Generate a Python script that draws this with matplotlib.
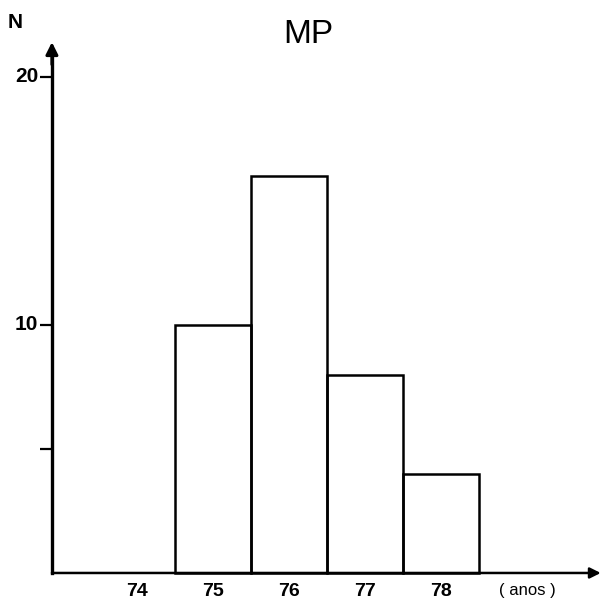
import matplotlib
matplotlib.use("Agg")
import matplotlib.pyplot as plt

years = [75, 76, 77, 78]
counts = [10, 16, 8, 4]
xlabels = ["74", "75", "76", "77", "78"]
xpos = [74, 75, 76, 77, 78]
yticks = [5, 10, 20]
ylabels = ["", "10", "20"]

plt.rcParams['font.family'] = ['Liberation Sans', 'DejaVu Sans']

fig = plt.figure(figsize=(6.03, 6.01), dpi=100)
ax = fig.add_axes([0, 0, 1, 1])
ax.set_xlim(72.197, 80.13)
ax.set_ylim(-1.13, 23.1)

x0 = 72.88  # where the vertical axis is drawn

ax.bar(years, counts, width=1.0, fill=False, edgecolor='black', linewidth=1.8)

for s in ['top', 'right']:
    ax.spines[s].set_visible(False)
ax.spines['bottom'].set_position(('data', 0))
ax.spines['bottom'].set_color('none')
ax.spines['left'].set_position(('data', x0))
ax.spines['left'].set_bounds(0, 21.0)
ax.spines['left'].set_linewidth(2.4)

# axes arrows
ax.annotate('', xy=(x0, 21.4), xytext=(x0, 20.5),
            arrowprops=dict(arrowstyle='-|>', lw=2.2, color='black',
                            mutation_scale=18, shrinkA=0, shrinkB=0))
ax.annotate('', xy=(80.1, 0), xytext=(x0, 0),
            arrowprops=dict(arrowstyle='-|>', lw=1.8, color='black',
                            mutation_scale=16, shrinkA=0, shrinkB=0))

ax.set_yticks(yticks)
ax.set_yticklabels(ylabels, fontsize=15, fontweight='bold')
ax.tick_params(axis='y', direction='out', length=9, width=1.6, pad=1)
for lab in ax.get_yticklabels():
    lab.set_verticalalignment('center')

ax.set_xticks(xpos)
ax.set_xticklabels(xlabels, fontsize=14, fontweight='bold')
ax.tick_params(axis='x', length=0, pad=7)

ax.text(79.13, -0.7, "( anos )", fontsize=12, ha='center', va='center')
ax.text(76.25, 21.7, "MP", fontsize=24, ha='center', va='center')
ax.text(72.4, 22.2, "N", fontsize=15, fontweight='bold', ha='center', va='center')

fig.savefig("out.png", dpi=100)
